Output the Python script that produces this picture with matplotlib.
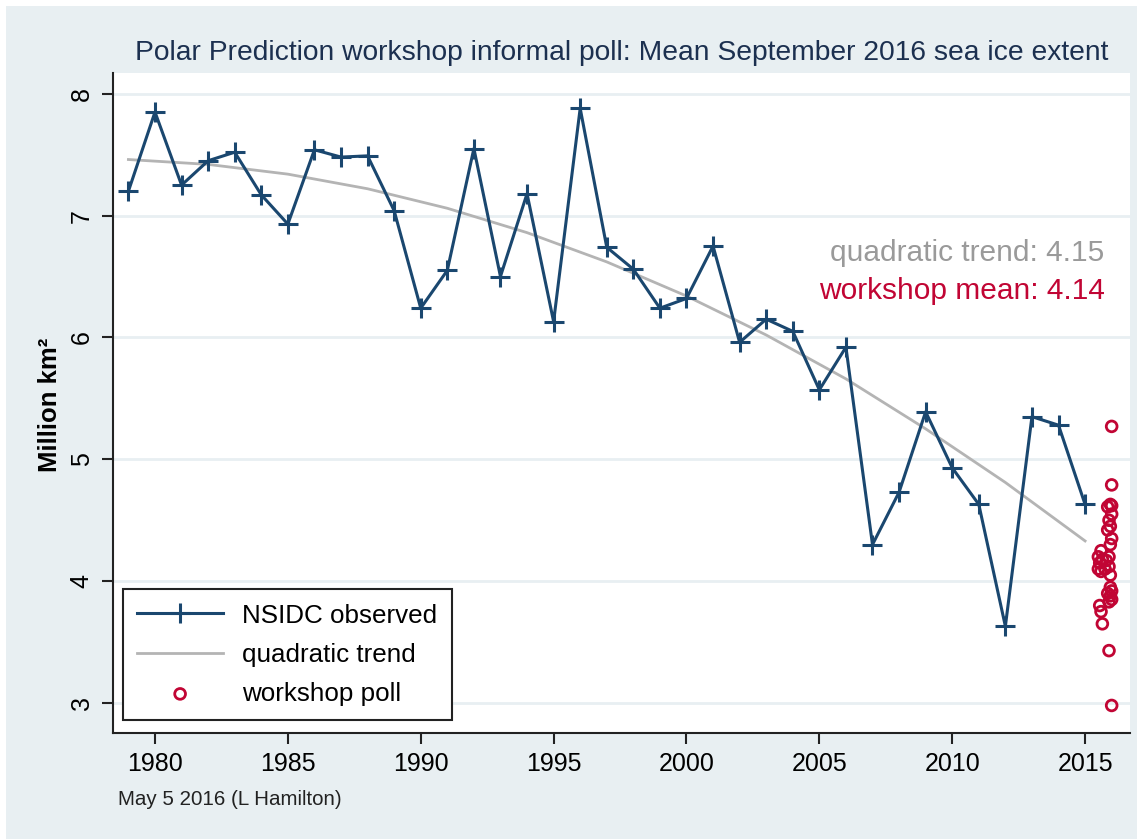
import numpy as np
import matplotlib
matplotlib.use("Agg")
import matplotlib.pyplot as plt
from matplotlib.patches import Rectangle

plt.rcParams['font.family'] = ['Liberation Sans', 'DejaVu Sans']

# NSIDC September mean extent (million km2)
years = list(range(1979, 2016))
extent = [7.20, 7.85, 7.25, 7.45, 7.52, 7.17, 6.93, 7.54, 7.48, 7.49,
          7.04, 6.24, 6.55, 7.55, 6.50, 7.18, 6.13, 7.88, 6.74, 6.56,
          6.24, 6.32, 6.75, 5.96, 6.15, 6.05, 5.57, 5.92, 4.30, 4.73,
          5.39, 4.93, 4.63, 3.63, 5.35, 5.28, 4.63]

# quadratic trend
trend_years = [1979, 1982, 1985, 1988, 1991, 1994, 1997, 2000, 2003, 2006, 2009, 2012, 2015]
trend_vals = [7.46, 7.42, 7.34, 7.22, 7.06, 6.86, 6.62, 6.34, 6.02, 5.66, 5.25, 4.81, 4.33]

# workshop poll answers (jittered around 2016)
poll_vals = [5.27, 4.79, 4.63, 4.62, 4.61, 4.55, 4.50, 4.45, 4.42, 4.35, 4.30,
             4.25, 4.20, 4.20, 4.18, 4.17, 4.15, 4.12, 4.10, 4.10, 4.08, 4.05,
             3.95, 3.92, 3.90, 3.88, 3.85, 3.83, 3.80, 3.75, 3.65, 3.43, 2.98]
poll_x = [2016.0, 2016.0, 2015.95, 2016.0, 2015.85, 2016.0, 2015.9, 2015.95, 2015.85, 2016.0, 2015.95,
          2015.6, 2015.5, 2015.9, 2015.65, 2015.8, 2015.55, 2015.9, 2015.5, 2015.75, 2015.6, 2015.95,
          2015.95, 2016.0, 2015.85, 2015.95, 2016.0, 2015.9, 2015.55, 2015.6, 2015.65, 2015.9, 2016.0]

trend_2016 = 4.15
poll_mean = 4.14

navy = '#1a476f'
gray = '#b4b4b4'
red = '#c10534'
bg = '#e8eff2'

fig = plt.figure(figsize=(11.43, 8.39), dpi=100, facecolor='white')
fig.patches.append(Rectangle((6 / 1143, 0), 1131 / 1143, 833 / 839,
                             transform=fig.transFigure, facecolor=bg,
                             edgecolor='none', zorder=-10))

ax = fig.add_axes([113 / 1143, (839 - 733) / 839, 1017 / 1143, 660 / 839])
ax.set_facecolor('white')

ax.plot(years, extent, color=navy, lw=2.2, marker='+', ms=15, mew=2.2,
        label='NSIDC observed', zorder=3)
ax.plot(trend_years, trend_vals, color=gray, lw=2, label='quadratic trend', zorder=2)
ax.scatter(poll_x, poll_vals, s=60, facecolors='none', edgecolors=red,
           linewidths=2, label='workshop poll', zorder=4)

ax.set_xlim(1978.42, 2016.69)
ax.set_ylim(2.754, 8.17)
ax.set_xticks(range(1980, 2016, 5))
ax.set_yticks(range(3, 9))
ax.grid(axis='y', color=bg, lw=2)
ax.set_axisbelow(True)

for s in ['top', 'right']:
    ax.spines[s].set_visible(False)
for s in ['left', 'bottom']:
    ax.spines[s].set_color('#222222')
    ax.spines[s].set_linewidth(1.5)
ax.tick_params(direction='out', length=8, width=1.5, color='#222222',
               labelsize=18, pad=6)
for lab in ax.get_yticklabels():
    lab.set_rotation(90)
    lab.set_va('center')

fig.text(0.5435, 0.937,
         'Polar Prediction workshop informal poll: Mean September 2016 sea ice extent',
         ha='center', va='center', fontsize=20.3, color='#1c3050')
fig.text(50 / 1143, 0.517, 'Million km²', rotation=90, ha='center', va='center',
         fontsize=18.5, fontweight='bold')
fig.text(118 / 1143, 0.0465, 'May 5 2016 (L Hamilton)', ha='left', va='center',
         fontsize=14.8, color='#222222')

ax.text(0.975, 0.728, f'quadratic trend: {trend_2016:.2f}', transform=ax.transAxes,
        ha='right', va='center', fontsize=21.5, color='#9a9a9a')
ax.text(0.975, 0.669, f'workshop mean: {poll_mean:.2f}', transform=ax.transAxes,
        ha='right', va='center', fontsize=21.5, color=red)

leg = ax.legend(loc='lower left', bbox_to_anchor=(0.0098, 0.0197), fontsize=18.7,
                fancybox=False, edgecolor='#222222', framealpha=1, borderaxespad=0,
                handlelength=3.3, handletextpad=0.75, borderpad=0.55, labelspacing=0.58)
leg.get_frame().set_linewidth(1.5)

fig.savefig('out.png', dpi=100, facecolor=fig.get_facecolor())
